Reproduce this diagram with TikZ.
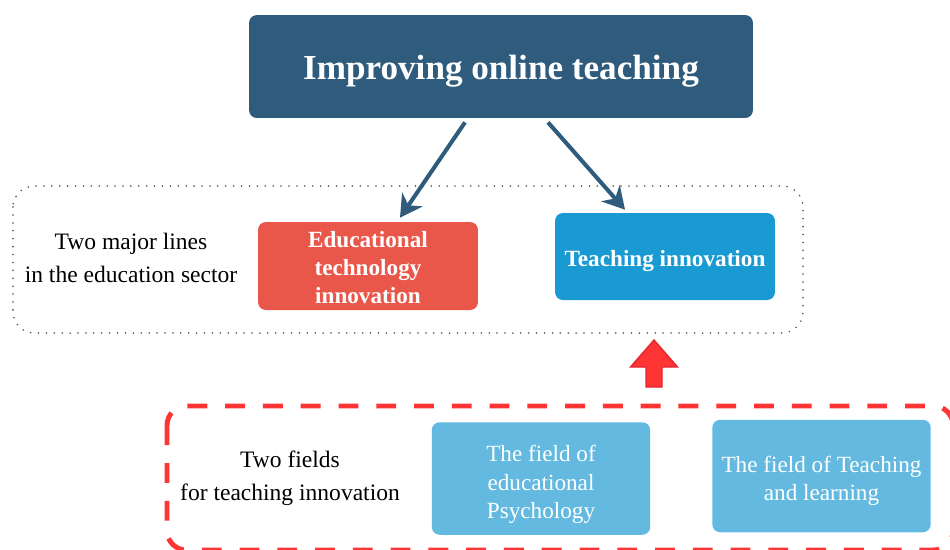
\documentclass[tikz,border=0pt]{standalone}
\usepackage{fontspec}
\setmainfont{Liberation Serif}
\usepackage{xcolor}
\usetikzlibrary{
arrows.meta,
positioning
}
\definecolor{topblue}{HTML}{2F5C7D}
\definecolor{edured}{HTML}{E9574A}
\definecolor{teachblue}{HTML}{1A9AD3}
\definecolor{fieldblue}{HTML}{63B9E0}
\definecolor{markred}{HTML}{FF3434}
\definecolor{markrim}{HTML}{E3262E}

\begin{document}
\begin{tikzpicture}[
    x=0.02cm, y=-0.02cm,
    >={Stealth[length=12.5pt,width=14pt,inset=4pt]},
    base/.style={rounded corners=4.5pt, inner sep=0pt, align=center, text=white},
    head/.style={base, fill=topblue, minimum width=10.08cm, minimum height=2.06cm,
      text height=15.3pt, text depth=0pt, font=\bfseries\fontsize{20}{24}\selectfont},
    proc/.style={base, minimum width=4.4cm, font=\bfseries\fontsize{13.2}{15.9}\selectfont},
    field/.style={base, fill=fieldblue, minimum width=4.37cm, minimum height=2.25cm,
      font=\fontsize{13.2}{16}\selectfont},
    note/.style={align=center, font=\fontsize{13.4}{19}\selectfont},
    link/.style={->, draw=topblue, line width=2.3pt},
    dotbox/.style={draw=black!70, line width=1pt, line cap=round,
      dash pattern=on 0pt off 4.5pt, rounded corners=12pt},
    dashbox/.style={draw=markred, line width=2.8pt, dash pattern=on 11.3pt off 10.2pt,
      rounded corners=11pt},
    upmark/.style={fill=markred, draw=markrim, line width=0.8pt}]
  \useasboundingbox (0,0) rectangle (950,549);

  % top
  \node[head] (top) at (501,66.5) {Improving online teaching};

  % two major lines
  \draw[dotbox] (13,186) rectangle (803,333);
  \node[note] (lines) at (131,258) {Two major lines\\in the education sector};
  \node[proc, fill=edured, minimum height=1.76cm] (edu) at (368,266)
    {\rule{0pt}{11pt}Educational\\technology\\innovation};
  \node[proc, fill=teachblue, minimum height=1.74cm, text height=11.6pt, text depth=0pt]
    (teach) at (665,256.5) {Teaching innovation};

  \draw[link] ([xshift=-0.72cm,yshift=-0.08cm]top.south) -- ([xshift=0.64cm,yshift=0.08cm]edu.north);
  \draw[link] ([xshift=0.94cm,yshift=-0.08cm]top.south) -- ([xshift=-0.8cm,yshift=0.06cm]teach.north);

  % two fields
  \draw[dashbox] (167,406) rectangle (953,550);
  \node[note] (fields) at (290,478) {Two fields\\for teaching innovation};
  \node[field] (psy) at (541,478.5) {\rule{0pt}{16pt}The field of\\educational\\Psychology};
  \node[field] (learn) at (821.5,476) {\rule{0pt}{15pt}The field of Teaching\\and learning};

  \coordinate (upfoot) at (654,387);
  \draw[upmark] (upfoot) ++(-8,0) -- ++(0,-20) -- ++(-15.5,0) -- ++(23.5,-27)
    -- ++(23.5,27) -- ++(-15.5,0) -- ++(0,20) -- cycle;
\end{tikzpicture}
\end{document}
